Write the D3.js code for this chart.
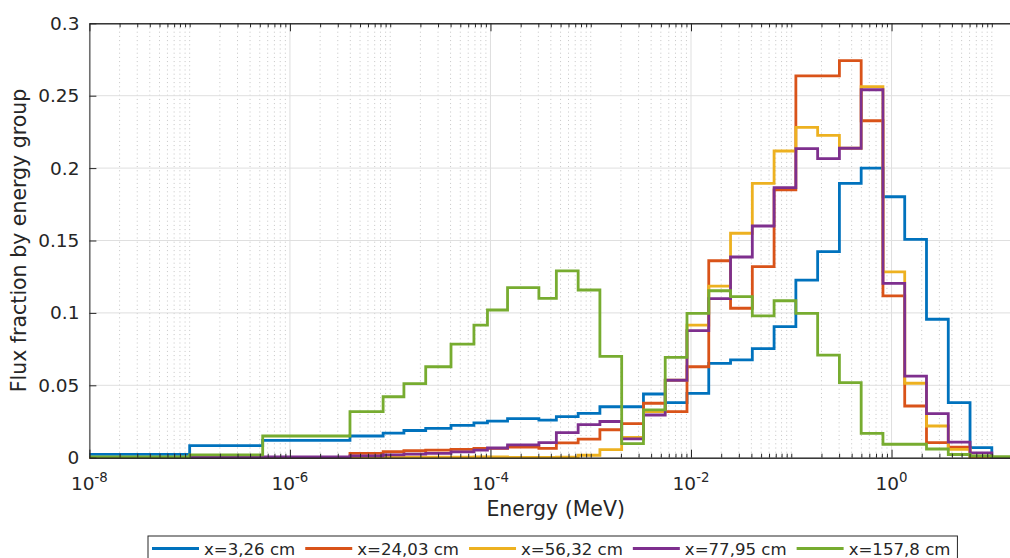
<!DOCTYPE html>
<html>
<head>
<meta charset="utf-8">
<script src="https://cdn.jsdelivr.net/npm/d3@7"></script>
<style>
  body { margin: 0; background: #fff; }
  svg { display: block; font-family: "DejaVu Sans", sans-serif; }
</style>
</head>
<body>
<svg id="chart" width="1010" height="558"></svg>
<script>
// Energy group boundaries (MeV), lowest to highest
const energyBounds = [
  1e-8, 1.0e-7, 5.35e-7, 3.97e-6, 8.5e-6, 1.37e-5, 2.26e-5, 4.04e-5, 6.84e-5,
  9.33e-5, 1.48e-4, 3.04e-4, 4.54e-4, 7.49e-4, 1.234e-3, 2.035e-3, 3.355e-3,
  5.531e-3, 9.119e-3, 1.503e-2, 2.479e-2, 4.087e-2, 6.738e-2, 0.1111, 0.1832,
  0.3020, 0.4979, 0.8209, 1.353, 2.231, 3.679, 6.065, 10.0, 16.49
];

// Flux fraction in each group, one array per depth
const flux_3_26 = [
  0.0023, 0.0083, 0.0120, 0.0150, 0.0170, 0.0188, 0.0203, 0.0223, 0.0240, 0.0252,
  0.0270, 0.0260, 0.0283, 0.0306, 0.0352, 0.0352, 0.0440, 0.0381, 0.0444, 0.0652,
  0.0675, 0.0753, 0.0905, 0.1227, 0.1423, 0.1895, 0.2000, 0.1802, 0.1508, 0.0956,
  0.0380, 0.0069, 0.0000
];
const flux_24_03 = [
  0.0000, 0.0000, 0.0000, 0.0030, 0.0041, 0.0048, 0.0053, 0.0058, 0.0065, 0.0065,
  0.0074, 0.0065, 0.0103, 0.0128, 0.0193, 0.0236, 0.0376, 0.0318, 0.0628, 0.1360,
  0.1032, 0.1319, 0.1849, 0.2637, 0.2637, 0.2742, 0.2327, 0.1117, 0.0357, 0.0104,
  0.0072, 0.0005, 0.0000
];
const flux_56_32 = [
  0.0000, 0.0000, 0.0000, 0.0000, 0.0003, 0.0003, 0.0003, 0.0003, 0.0005, 0.0005,
  0.0002, 0.0002, 0.0003, 0.0017, 0.0056, 0.0140, 0.0318, 0.0535, 0.0916, 0.1185,
  0.1550, 0.1895, 0.2118, 0.2281, 0.2226, 0.2137, 0.2562, 0.1284, 0.0514, 0.0219,
  0.0058, 0.0010, 0.0000
];
const flux_77_95 = [
  0.0002, 0.0003, 0.0005, 0.0012, 0.0019, 0.0025, 0.0030, 0.0040, 0.0052, 0.0067,
  0.0088, 0.0104, 0.0173, 0.0228, 0.0250, 0.0130, 0.0295, 0.0535, 0.0877, 0.1098,
  0.1386, 0.1600, 0.1865, 0.2135, 0.2065, 0.2137, 0.2541, 0.1204, 0.0563, 0.0304,
  0.0107, 0.0034, 0.0000
];
const flux_157_8 = [
  0.0005, 0.0020, 0.0150, 0.0318, 0.0421, 0.0511, 0.0628, 0.0784, 0.0916, 0.1020,
  0.1175, 0.1100, 0.1290, 0.1158, 0.0700, 0.0097, 0.0330, 0.0693, 0.0997, 0.1153,
  0.1112, 0.0979, 0.1084, 0.0997, 0.0709, 0.0518, 0.0168, 0.0093, 0.0093, 0.0060,
  0.0022, 0.0012, 0.0008
];

const seriesNames = ["x=3,26 cm", "x=24,03 cm", "x=56,32 cm", "x=77,95 cm", "x=157,8 cm"];
const seriesColors = ["#0072BD", "#D95319", "#EDB120", "#7E2F8E", "#77AC30"];
const seriesValues = [flux_3_26, flux_24_03, flux_56_32, flux_77_95, flux_157_8];

const yTicks = [0, 0.05, 0.1, 0.15, 0.2, 0.25, 0.3];
const yTickLabels = ["0", "0.05", "0.1", "0.15", "0.2", "0.25", "0.3"];
const xTickExponents = [-8, -6, -4, -2, 0];

const xLabel = "Energy (MeV)";
const yLabel = "Flux fraction by energy group";

// ---- layout ----
const plot = { left: 89.4, right: 1022, top: 23.3, bottom: 457.7 };
const axisColor = "#262626";
const tickFont = 18.5, labelFont = 20.5, legendFont = 16.6;

const svg = d3.select("#chart");

const x = d3.scaleLog().domain([1e-8, 20]).range([plot.left, plot.right]);
const y = d3.scaleLinear().domain([0, 0.3]).range([plot.bottom, plot.top]);

const xMajor = xTickExponents.map(e => Math.pow(10, e));
const xMinor = [];
for (let k = -8; k <= 1; k++) {
  for (let j = 1; j <= 9; j++) {
    const v = j * Math.pow(10, k);
    if (v > 20) continue;
    if (j === 1 && xTickExponents.includes(k)) continue;
    xMinor.push(v);
  }
}

// ---- grid ----
const grid = svg.append("g");
grid.selectAll("line.minor").data(xMinor).join("line")
  .attr("x1", d => x(d)).attr("x2", d => x(d))
  .attr("y1", plot.top).attr("y2", plot.bottom)
  .attr("stroke", "#c4c4c4").attr("stroke-width", 1)
  .attr("stroke-dasharray", "1,3.2");
grid.selectAll("line.majx").data(xMajor).join("line")
  .attr("x1", d => x(d)).attr("x2", d => x(d))
  .attr("y1", plot.top).attr("y2", plot.bottom)
  .attr("stroke", "#dfdfdf").attr("stroke-width", 1);
grid.selectAll("line.majy").data(yTicks.slice(1, -1)).join("line")
  .attr("x1", plot.left).attr("x2", plot.right)
  .attr("y1", d => y(d)).attr("y2", d => y(d))
  .attr("stroke", "#dfdfdf").attr("stroke-width", 1);

// ---- stair lines ----
const stair = d3.line()
  .x(d => x(d[0])).y(d => y(d[1]))
  .curve(d3.curveStepAfter);

svg.append("g").selectAll("path").data(seriesValues).join("path")
  .attr("d", vals => {
    const pts = vals.map((v, i) => [energyBounds[i], v]);
    pts.push([energyBounds[vals.length], vals[vals.length - 1]]);
    return stair(pts);
  })
  .attr("fill", "none")
  .attr("stroke", (d, i) => seriesColors[i])
  .attr("stroke-width", 2.8)
  .attr("stroke-linejoin", "miter");

// ---- axes ----
function styleAxis(g) {
  g.selectAll(".domain").attr("stroke", axisColor).attr("stroke-width", 1);
  g.selectAll(".tick line").attr("stroke", axisColor).attr("stroke-width", 1);
  g.selectAll(".tick text").attr("fill", axisColor);
}

// bottom, major + minor
svg.append("g").attr("transform", `translate(0,${plot.bottom})`)
  .call(d3.axisBottom(x).tickValues(xMinor).tickSize(-4).tickSizeOuter(0).tickFormat(""))
  .call(styleAxis);
const xAxisG = svg.append("g").attr("transform", `translate(0,${plot.bottom})`)
  .call(d3.axisBottom(x).tickValues(xMajor).tickSize(-8).tickSizeOuter(0).tickFormat(""))
  .call(styleAxis);

// top, major + minor
svg.append("g").attr("transform", `translate(0,${plot.top})`)
  .call(d3.axisTop(x).tickValues(xMinor).tickSize(-4).tickSizeOuter(0).tickFormat(""))
  .call(styleAxis);
svg.append("g").attr("transform", `translate(0,${plot.top})`)
  .call(d3.axisTop(x).tickValues(xMajor).tickSize(-8).tickSizeOuter(0).tickFormat(""))
  .call(styleAxis);

// left
const yAxisG = svg.append("g").attr("transform", `translate(${plot.left},0)`)
  .call(d3.axisLeft(y).tickValues(yTicks).tickSize(-7).tickSizeOuter(0).tickPadding(10)
    .tickFormat((d, i) => yTickLabels[i]))
  .call(styleAxis);
yAxisG.selectAll(".tick text")
  .attr("font-size", tickFont).attr("font-family", "DejaVu Sans");

// right edge of the box
svg.append("line")
  .attr("x1", plot.right).attr("x2", plot.right)
  .attr("y1", plot.top).attr("y2", plot.bottom)
  .attr("stroke", axisColor);

// power-of-ten labels under the bottom axis
const xl = svg.append("g").attr("fill", axisColor);
xMajor.forEach((v, i) => {
  const t = xl.append("text")
    .attr("y", 490)
    .attr("font-size", tickFont)
    .attr("text-anchor", "middle");
  t.append("tspan").text("10");
  t.append("tspan").attr("font-size", tickFont * 0.72).attr("dy", -8)
    .text(xTickExponents[i] < 0 ? "-" + Math.abs(xTickExponents[i]) : String(xTickExponents[i]));
  t.attr("x", x(v));
});

// axis titles
svg.append("text")
  .attr("x", (plot.left + plot.right) / 2).attr("y", 516)
  .attr("text-anchor", "middle").attr("font-size", labelFont).attr("fill", axisColor)
  .text(xLabel);
svg.append("text")
  .attr("transform", `translate(26,${(plot.top + plot.bottom) / 2}) rotate(-90)`)
  .attr("text-anchor", "middle").attr("font-size", labelFont).attr("fill", axisColor)
  .text(yLabel);

// ---- legend ----
const legend = svg.append("g");
const legendBox = legend.append("rect")
  .attr("fill", "#fff").attr("stroke", axisColor).attr("stroke-width", 1);
let lx = 152;
const ly = 548.5;
seriesNames.forEach((name, i) => {
  legend.append("line")
    .attr("x1", lx).attr("x2", lx + 47).attr("y1", ly).attr("y2", ly)
    .attr("stroke", seriesColors[i]).attr("stroke-width", 2.8);
  const t = legend.append("text")
    .attr("x", lx + 52).attr("y", ly + 6)
    .attr("font-size", legendFont).attr("fill", axisColor)
    .text(name);
  const w = t.node().getComputedTextLength();
  lx = lx + 52 + w + 10;
});
legendBox.attr("x", 148).attr("y", 536).attr("width", lx - 148 - 3).attr("height", 30);
</script>
</body>
</html>
